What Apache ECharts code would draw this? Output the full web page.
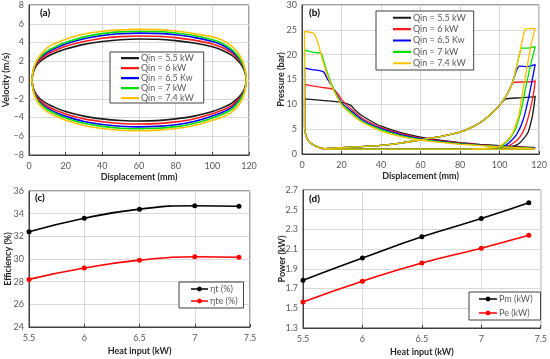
<!DOCTYPE html>
<html><head><meta charset="utf-8">
<script src="https://cdn.jsdelivr.net/npm/echarts@6/dist/echarts.min.js"></script>
<style>html,body{margin:0;padding:0;background:#fff}#c{width:550px;height:359px}</style>
</head><body><div id="c"></div><script>
// ---------- names & colours ----------
const qinNames = ['Qin = 5.5 kW','Qin = 6 kW','Qin = 6.5 Kw','Qin = 7 kW','Qin = 7.4 kW'];
const qinColors = ['#1a1a1a','#ff1a1a','#0000ff','#00e000','#ffc000'];

// ---------- (a) velocity vs displacement ----------
const dispA = [1.5,2.5,4,6,10,15,20,30,40,50,60,70,80,90,100,105,110,113,115.5,117.5,118.5,
               117.5,115.5,113,110,105,100,90,80,70,60,50,40,30,20,15,10,6,4,2.5,1.5];
const vel55 = [0,0.9,1.5,1.95,2.5,2.95,3.3,3.8,4.1,4.3,4.38,4.35,4.2,3.95,3.55,3.2,2.7,2.25,1.7,1.0,0,
               -0.95,-1.6,-2.1,-2.55,-3.0,-3.35,-3.85,-4.15,-4.33,-4.38,-4.32,-4.15,-3.85,-3.35,-3.0,-2.55,-2.0,-1.55,-0.95,0];
const vel60 = [0,1.0,1.65,2.15,2.75,3.2,3.6,4.1,4.45,4.63,4.7,4.67,4.52,4.25,3.85,3.5,2.95,2.45,1.85,1.1,0,
               -1.05,-1.75,-2.3,-2.8,-3.25,-3.6,-4.15,-4.47,-4.65,-4.7,-4.64,-4.45,-4.15,-3.62,-3.25,-2.8,-2.2,-1.7,-1.05,0];
const vel65 = [0,1.1,1.8,2.35,2.95,3.45,3.85,4.4,4.75,4.93,5.0,4.97,4.82,4.55,4.1,3.75,3.15,2.65,2.0,1.2,0,
               -1.15,-1.9,-2.5,-3.0,-3.5,-3.85,-4.43,-4.77,-4.95,-5.0,-4.94,-4.75,-4.42,-3.88,-3.5,-3.0,-2.4,-1.85,-1.15,0];
const vel70 = [0,1.15,1.9,2.45,3.1,3.6,4.0,4.6,4.95,5.13,5.2,5.17,5.02,4.75,4.3,3.95,3.35,2.8,2.1,1.25,0,
               -1.2,-2.0,-2.65,-3.2,-3.7,-4.05,-4.63,-4.97,-5.15,-5.2,-5.14,-4.95,-4.62,-4.05,-3.65,-3.15,-2.5,-1.95,-1.2,0];
const vel74 = [0,1.2,2.0,2.6,3.45,3.95,4.35,4.9,5.2,5.35,5.4,5.37,5.22,4.95,4.6,4.3,3.7,3.15,2.45,1.45,0,
               -1.4,-2.35,-3.0,-3.5,-4.0,-4.3,-4.85,-5.18,-5.35,-5.42,-5.36,-5.17,-4.85,-4.3,-3.9,-3.4,-2.7,-2.1,-1.3,0];
const velSets = [vel55, vel60, vel65, vel70, vel74];

// ---------- (b) pressure vs displacement ----------
const bLeftStart = [[117,1.0],[60,1.0],[14,1.0],[11,1.1],[8,1.4],[5,2.0],[3,2.8],[1.8,4.0],[1.3,5.5]];
const pLeft55 = [[1.3,11.1],[10,10.8],[20,10.4],[24.7,9.8],[27,8.8],[30,7.8],[35,6.6],[40,5.6],[50,4.3],[60,3.4],[70,2.8],[80,2.3],[90,1.95],[100,1.7],[110,1.5],[118,1.3]];
const pLeft60 = [[1.3,14.0],[5,13.7],[10,13.4],[15.5,13.1],[18,12.2],[20,11.0],[25,9.0],[30,7.3],[35,6.2],[40,5.3],[50,4.1],[60,3.2],[70,2.65],[80,2.2],[90,1.85],[100,1.6],[110,1.4],[118,1.2]];
const pLeft65 = [[1.3,17.3],[5,17.0],[9,16.8],[11,16.5],[13,15.0],[15,13.8],[20,10.3],[25,8.6],[30,7.0],[35,5.9],[40,5.1],[50,3.9],[60,3.1],[70,2.55],[80,2.1],[90,1.8],[100,1.55],[110,1.35],[118,1.15]];
const pLeft70 = [[1.3,20.9],[4,20.6],[7,20.4],[9.7,20.3],[12,17.3],[15,14.0],[20,10.1],[25,8.3],[30,6.7],[35,5.7],[40,4.9],[50,3.7],[60,2.95],[70,2.45],[80,2.05],[90,1.75],[100,1.5],[110,1.3],[118,1.1]];
const pLeft74 = [[1.3,24.7],[4,24.5],[6,24.3],[8,22.5],[10,19.5],[12,16.8],[15,13.7],[20,9.9],[25,8.0],[30,6.5],[35,5.5],[40,4.6],[50,3.5],[60,2.8],[70,2.35],[80,1.95],[90,1.7],[100,1.45],[110,1.25],[118,1.05]];
const bCompression = [[10,1.05],[20,1.3],[30,1.5],[40,1.75],[50,2.2],[60,2.85],[70,3.5],[80,4.4],[85,5.2],[90,6.3],[95,7.8],[100,9.8]];
const pRight55 = [[103,11.1],[110,11.3],[117.3,11.5],[118,11.7],[117.5,10],[116.5,7.5],[114.5,4.5],[112,3],[109,1.9],[105,1.4],[100,1.2],[94,1.0]];
const pRight60 = [[103,11.5],[105,13.0],[107,14.4],[112,14.5],[117.5,14.6],[118,14.8],[117.3,12.5],[115.5,9],[113,5.5],[110,3.3],[107,2.2],[103,1.4],[98,1.2],[92,1.0]];
const pRight65 = [[103,11.5],[105,13.0],[107,15.0],[108.5,16.8],[110,17.7],[114,17.6],[118,18.0],[116.5,15],[114.5,11],[112,7],[109,4.2],[106,2.7],[102,1.5],[97,1.2],[90,1.0]];
const pRight70 = [[103,11.5],[105,13.0],[107,15.0],[108.5,17.5],[110,20.0],[111,21.3],[114,21.3],[118,21.6],[116,18.5],[113.5,14],[111,9],[108,5.0],[105,3.0],[101,1.6],[95,1.2],[88,1.0]];
const pRight74 = [[103,11.5],[105,13.0],[107,15.0],[108.5,17.5],[110,20.0],[111.5,23],[113,25.2],[118,25.3],[116.5,23],[114.8,19.6],[112.3,14],[109.5,7.5],[106.5,4.2],[104,2.8],[100,1.6],[94,1.2],[86,1.0]];
const pLefts = [pLeft55,pLeft60,pLeft65,pLeft70,pLeft74];
const pRights = [pRight55,pRight60,pRight65,pRight70,pRight74];

// ---------- (c) efficiency ----------
const heatInput = [5.5, 6, 6.5, 7, 7.4];
const etaT = [32.4, 33.6, 34.4, 34.7, 34.65];
const etaTE = [28.2, 29.2, 29.9, 30.2, 30.15];
// ---------- (d) power ----------
const powerM = [1.785, 2.01, 2.225, 2.41, 2.57];
const powerE = [1.565, 1.775, 1.96, 2.11, 2.24];
const powerTicks = [1.3,1.5,1.7,1.9,2.1,2.3,2.5,2.7];

const FONT = 'Lato';
const labelStyle = {color:'#595959', fontSize:9, fontFamily:FONT};
const nameStyle = {color:'#262626', fontSize:9, fontWeight:'bold', fontFamily:FONT};
const gridLine = {show:true, lineStyle:{color:'#d9d9d9', width:1}};
const axisLineS = {show:true, onZero:false, lineStyle:{color:'#404040', width:1}};

function xAx(gi, name, min, max, interval, gap, fmt){
  return {type:'value', gridIndex:gi, min, max, interval, name, nameLocation:'middle', nameGap:gap,
    nameTextStyle:nameStyle, nameMoveOverlap:false,
    axisLine:axisLineS, axisTick:{show:true, inside:true, length:3, lineStyle:{color:'#404040'}},
    axisLabel:Object.assign({margin:7, formatter:fmt}, labelStyle), splitLine:gridLine};
}
function yAx(gi, name, min, max, interval, gap, fmt, extra){
  const o = {type:'value', gridIndex:gi, min, max, interval, name, nameLocation:'middle', nameGap:gap,
    nameTextStyle:nameStyle, nameMoveOverlap:false,
    axisLine:axisLineS, axisTick:{show:false},
    axisLabel:Object.assign({margin:5, formatter:fmt}, labelStyle), splitLine:gridLine};
  return Object.assign(o, extra||{});
}
const minusFmt = v => v < 0 ? '\u2212' + Math.abs(v) : String(v);

// legend icons (line-only, and line with marker)
const iconLineA = 'path://M0,0h0.01v0.01h-0.01z M18,10h0.01v0.01h-0.01z M0,4h18v2.2h-18z';
const iconLineB = 'path://M0,0h0.01v0.01h-0.01z M18,11h0.01v0.01h-0.01z M0,4.5h18v2h-18z';
const iconMarkC = 'path://M0,0h0.01v0.01h-0.01z M17,12h0.01v0.01h-0.01z M0,5.3h17v1.4h-17z M8.5,3.4 L10.3,4.2 L11.1,6 L10.3,7.8 L8.5,8.6 L6.7,7.8 L5.9,6 L6.7,4.2 Z';
const iconMarkD = 'path://M0,0h0.01v0.01h-0.01z M18,14h0.01v0.01h-0.01z M0,6.3h18v1.4h-18z M9,4.4 L10.8,5.2 L11.6,7 L10.8,8.8 L9,9.6 L7.2,8.8 L6.4,7 L7.2,5.2 Z';

const series = [];
qinNames.forEach((n,i)=>{
  series.push({type:'line', name:n, xAxisIndex:0, yAxisIndex:0, symbol:'none', smooth:0.3,
    data: dispA.map((x,k)=>[x, velSets[i][k]]), lineStyle:{color:qinColors[i], width:1.6},
    itemStyle:{color:qinColors[i]}, animation:false, z:2+i});
});
qinNames.forEach((n,i)=>{
  series.push({type:'line', name:n, xAxisIndex:1, yAxisIndex:1, symbol:'none', smooth:0.15,
    data: bLeftStart.concat(pLefts[i]), lineStyle:{color:qinColors[i], width:1.3},
    itemStyle:{color:qinColors[i]}, animation:false, z:2+i});
  series.push({type:'line', name:n, xAxisIndex:1, yAxisIndex:1, symbol:'none', smooth:0.15,
    data: bCompression.concat(pRights[i]), lineStyle:{color:qinColors[i], width:1.3},
    itemStyle:{color:qinColors[i]}, animation:false, z:2+i});
});
series.push({type:'line', name:'\u03b7t (%)', xAxisIndex:2, yAxisIndex:2, smooth:true, symbol:'circle', symbolSize:5,
  data: heatInput.map((x,k)=>[x, etaT[k]]), lineStyle:{color:'#000', width:1.6}, itemStyle:{color:'#000'}, animation:false});
series.push({type:'line', name:'\u03b7te (%)', xAxisIndex:2, yAxisIndex:2, smooth:true, symbol:'circle', symbolSize:5,
  data: heatInput.map((x,k)=>[x, etaTE[k]]), lineStyle:{color:'#ff0000', width:1.6}, itemStyle:{color:'#ff0000'}, animation:false});
series.push({type:'line', name:'Pm (kW)', xAxisIndex:3, yAxisIndex:3, smooth:true, symbol:'circle', symbolSize:5,
  data: heatInput.map((x,k)=>[x, powerM[k]]), lineStyle:{color:'#000', width:1.6}, itemStyle:{color:'#000'}, animation:false});
series.push({type:'line', name:'Pe (kW)', xAxisIndex:3, yAxisIndex:3, smooth:true, symbol:'circle', symbolSize:5,
  data: heatInput.map((x,k)=>[x, powerE[k]]), lineStyle:{color:'#ff0000', width:1.6}, itemStyle:{color:'#ff0000'}, animation:false});

const legendText = Object.assign({}, labelStyle, {padding:[0,0,0,-3]});
const legendBase = {orient:'vertical', itemGap:0, backgroundColor:'#fff', borderColor:'#404040', borderWidth:1,
  borderRadius:0, selectedMode:false, symbolKeepAspect:false};

const option = {
  animation:false,
  textStyle:{fontFamily:FONT},
  grid:[
    {left:29, top:5, width:220, height:150, show:true, borderColor:'#404040', borderWidth:1},
    {left:302, top:5, width:240, height:149, show:true, borderColor:'#404040', borderWidth:1},
    {left:29, top:191, width:221, height:136, show:true, borderColor:'#404040', borderWidth:1},
    {left:303, top:190, width:239, height:138, show:true, borderColor:'#404040', borderWidth:1}
  ],
  xAxis:[
    xAx(0,'Displacement (mm)',0,120,20,18),
    xAx(1,'Displacement (mm)',0,120,20,18),
    xAx(2,'Heat input (kW)',5.5,7.5,0.5,20),
    xAx(3,'Heat input (kW)',5.5,7.5,0.5,20)
  ],
  yAxis:[
    yAx(0,'Velocity (m/s)',-8,8,2,18,minusFmt),
    yAx(1,'Pressure (bar)',0,30,5,16),
    yAx(2,'Efficiency (%)',24,36,2,16),
    yAx(3,'Power (kW)',1.3,2.7,null,16,v=>v.toFixed(1),
      {interval:undefined, axisLabel:Object.assign({margin:5, formatter:v=>v.toFixed(1), customValues:powerTicks}, labelStyle),
       axisTick:{show:false, customValues:powerTicks}})
  ],
  legend:[
    Object.assign({}, legendBase, {left:110, top:52, padding:[1,10,0,11], itemWidth:18, itemHeight:10, icon:iconLineA,
      textStyle:Object.assign({}, legendText, {lineHeight:10}), data:qinNames}),
    Object.assign({}, legendBase, {left:376, top:11, padding:[1,8,1,17], itemWidth:18, itemHeight:11.4, icon:iconLineB,
      textStyle:Object.assign({}, legendText, {lineHeight:11}), data:qinNames}),
    Object.assign({}, legendBase, {left:179, top:282, padding:[1,6,1,12], itemWidth:17, itemHeight:12, icon:iconMarkC,
      textStyle:legendText, data:['\u03b7t (%)','\u03b7te (%)']}),
    Object.assign({}, legendBase, {left:469, top:292, padding:[0,8,0,10], itemWidth:18, itemHeight:14, icon:iconMarkD,
      textStyle:legendText, data:['Pm (kW)','Pe (kW)']})
  ],
  graphic:[
    {type:'text', left:40, top:8, style:{text:'(a)', font:'bold 10px Lato', fill:'#000'}},
    {type:'text', left:309, top:8, style:{text:'(b)', font:'bold 10px Lato', fill:'#000'}},
    {type:'text', left:35, top:193, style:{text:'(c)', font:'bold 10px Lato', fill:'#000'}},
    {type:'text', left:309, top:194, style:{text:'(d)', font:'bold 10px Lato', fill:'#000'}}
  ],
  series
};
const chart = echarts.init(document.getElementById('c'), null, {renderer:'canvas'});
chart.setOption(option);
</script></body></html>
